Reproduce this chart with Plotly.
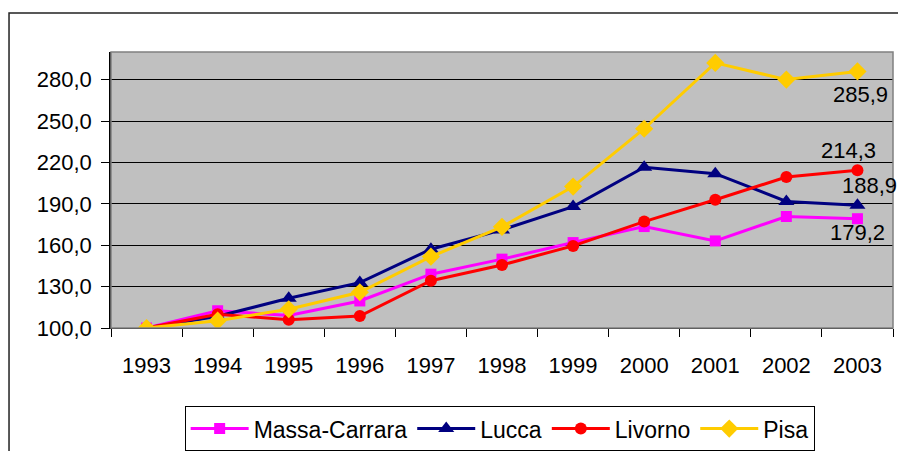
import plotly.graph_objects as go

years = ["1993", "1994", "1995", "1996", "1997", "1998", "1999", "2000", "2001", "2002", "2003"]
massa_carrara = [100.0, 112.5, 109.0, 119.6, 139.0, 149.9, 161.9, 173.5, 163.1, 180.8, 179.2]
lucca = [100.0, 108.5, 121.5, 132.9, 157.1, 171.1, 188.0, 216.5, 211.8, 191.7, 188.9]
livorno = [100.0, 110.0, 106.0, 108.7, 134.3, 145.7, 159.5, 177.1, 192.9, 209.4, 214.3]
pisa = [100.0, 105.3, 113.6, 125.9, 151.7, 173.3, 202.5, 244.4, 292.1, 280.0, 285.9]
y_ticks = [100, 130, 160, 190, 220, 250, 280]
y_tick_text = ["100,0", "130,0", "160,0", "190,0", "220,0", "250,0", "280,0"]

series = [
    ("Massa-Carrara", massa_carrara, "#FF00FF", "square", 11),
    ("Lucca", lucca, "#000080", "triangle-up", 14),
    ("Livorno", livorno, "#FF0000", "circle", 12),
    ("Pisa", pisa, "#FFCC00", "diamond", 14),
]

FONT = "Liberation Sans, Arial, sans-serif"
FS = 22

fig = go.Figure()
for name, vals, color, sym, size in series:
    fig.add_trace(go.Scatter(
        x=years, y=vals, name=name, mode="lines+markers",
        line=dict(color=color, width=3),
        marker=dict(symbol=sym, size=size, color=color),
    ))

# end-of-series data labels
labels = [
    (pisa, 3, -23),
    (livorno, -9, 20),
    (lucca, 12, 20),
    (massa_carrara, 0, -14),
]
last = len(years) - 1
for vals, dx, dy in labels:
    v = vals[-1]
    fig.add_annotation(
        x=last, y=v, xref="x", yref="y",
        text=f"{v:.1f}".replace(".", ","), showarrow=False,
        xshift=dx, yshift=dy, xanchor="center", yanchor="middle",
        font=dict(family=FONT, size=FS, color="black"),
    )

# plot area border (gray)
fig.add_shape(type="rect", xref="paper", yref="paper", x0=0, y0=0, x1=1, y1=1,
              line=dict(color="#808080", width=1.5), layer="above")
# outer chart frame
fig.add_shape(type="rect", xref="paper", yref="paper", x0=-0.1304, y0=-0.6, x1=1.1, y1=1.1413,
              line=dict(color="#222222", width=1.5), layer="above")

fig.update_layout(
    width=898, height=451,
    margin=dict(l=111, r=5, t=52, b=123, autoexpand=False),
    paper_bgcolor="white", plot_bgcolor="#C0C0C0",
    font=dict(family=FONT, size=FS, color="black"),
    showlegend=True,
    legend=dict(
        orientation="h", x=0.497, xanchor="center", y=-0.283, yanchor="top",
        bordercolor="black", borderwidth=1, bgcolor="white",
        font=dict(family=FONT, size=23), itemwidth=58,
        tracegroupgap=0,
    ),
    xaxis=dict(
        type="category", range=[-0.5, 10.5], tickson="boundaries",
        ticks="outside", ticklen=8, tickcolor="black", showgrid=False,
        showline=True, linecolor="black", linewidth=1,
        tickfont=dict(family=FONT, size=FS), ticklabelstandoff=18,
        automargin=False,
    ),
    yaxis=dict(
        range=[100, 300], tickvals=y_ticks, ticktext=y_tick_text,
        ticks="outside", ticklen=8, tickcolor="black",
        showgrid=True, gridcolor="black", gridwidth=1,
        showline=True, linecolor="black", linewidth=1.5,
        zeroline=False, tickfont=dict(family=FONT, size=FS),
        ticklabelstandoff=5, automargin=False,
    ),
)

fig.write_html(
    "out.html",
    config={"displayModeBar": False},
    post_script="document.body.style.margin='0';document.body.style.overflow='hidden';",
)
